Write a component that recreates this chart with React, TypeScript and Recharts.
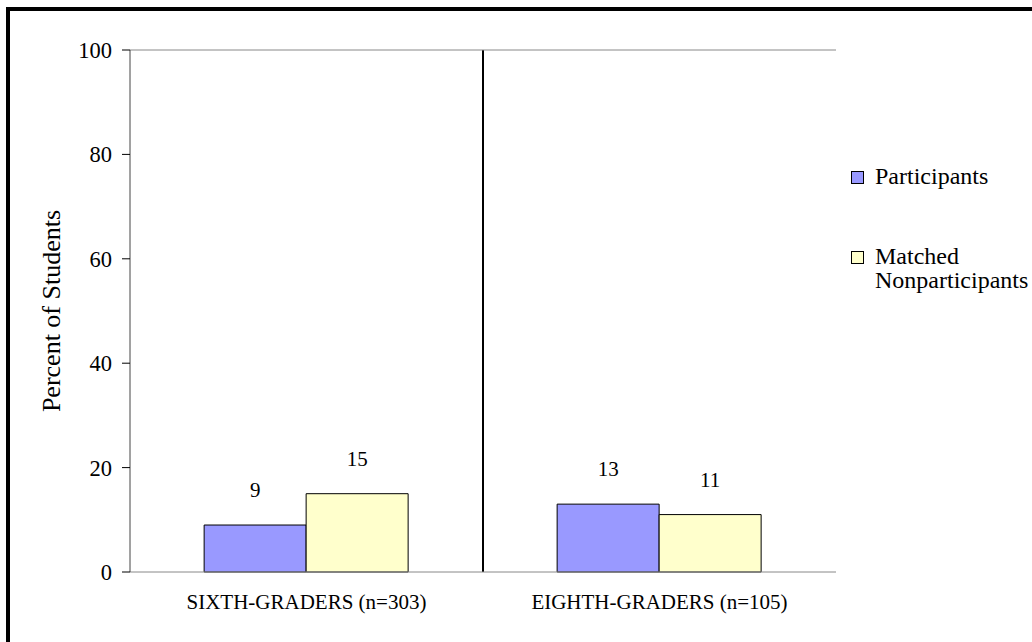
import React from 'react';
import { BarChart, Bar, XAxis, YAxis, LabelList, ReferenceLine, CartesianGrid } from 'recharts';

const categories = ['SIXTH-GRADERS (n=303)', 'EIGHTH-GRADERS (n=105)'];
const participants = [9, 13];
const nonparticipants = [15, 11];
const yTicks = [0, 20, 40, 60, 80, 100];
const seriesNames = ['Participants', 'Matched\nNonparticipants'];
const seriesColors = ['#9999FF', '#FFFFCC'];

const data = categories.map((name, i) => ({
  name,
  participants: participants[i],
  nonparticipants: nonparticipants[i],
}));

const FONT = '"Liberation Serif", "Times New Roman", serif';

const LegendBox = () => (
  <div
    style={{
      position: 'absolute',
      left: 851,
      top: 164,
      fontFamily: FONT,
      fontSize: 24,
      color: '#000',
      lineHeight: '24px',
    }}
  >
    {seriesNames.map((name, i) => (
      <div key={i} style={{ display: 'flex', alignItems: 'flex-start', marginBottom: i === 0 ? 56 : 0 }}>
        <span
          style={{
            display: 'inline-block',
            width: 11,
            height: 11,
            background: seriesColors[i],
            border: '1px solid #000',
            marginTop: 7,
            marginRight: 11,
            flex: 'none',
          }}
        />
        <span>
          {name.split('\n').map((l, j) => (
            <div key={j} style={{ whiteSpace: 'nowrap' }}>{l}</div>
          ))}
        </span>
      </div>
    ))}
  </div>
);

const YLabel = ({ viewBox }: any) => {
  const cx = 51;
  const cy = viewBox.y + viewBox.height / 2;
  return (
    <text
      x={cx}
      y={cy}
      transform={`rotate(-90 ${cx} ${cy})`}
      textAnchor="middle"
      dominantBaseline="central"
      fontFamily={FONT}
      fontSize={26}
      fill="#000"
    >
      Percent of Students
    </text>
  );
};

export default function App() {
  return (
    <div style={{ position: 'fixed', left: 0, top: 0, width: 1032, height: 642, overflow: 'hidden', background: '#fff' }}>
      <div
        style={{
          position: 'absolute',
          left: 6,
          top: 7,
          width: 1100,
          height: 700,
          border: '4px solid #000',
        }}
      />
      <div style={{ position: 'absolute', left: 0, top: 0 }}>
        <BarChart
          width={1032}
          height={642}
          data={data}
          margin={{ top: 50, right: 196, left: 30, bottom: 30 }}
          barCategoryGap="21%"
          barGap={0}
        >
          <CartesianGrid
            horizontal={false}
            stroke="#000"
            strokeWidth={2}
            verticalCoordinatesGenerator={({ offset }: any) => [offset.left + offset.width / 2]}
          />
          <XAxis
            dataKey="name"
            height={40}
            tickLine={false}
            tickSize={0}
            tickMargin={22}
            axisLine={{ stroke: '#888' }}
            tick={{ fontSize: 21, fill: '#000', fontFamily: FONT }}
            interval={0}
          />
          <YAxis
            width={100}
            domain={[0, 100]}
            ticks={yTicks}
            interval={0}
            tickSize={8}
            tickMargin={10}
            axisLine={{ stroke: '#444' }}
            tickLine={{ stroke: '#000' }}
            tick={{ fontSize: 22.5, fill: '#000', fontFamily: FONT }}
            label={<YLabel />}
          />
          <YAxis yAxisId="r" orientation="right" width={0} tick={false} tickLine={false} axisLine={{ stroke: '#888' }} />
          <ReferenceLine y={100} stroke="#888" />
          <Bar dataKey="participants" name="Participants" fill={seriesColors[0]} stroke="#000" strokeWidth={1} isAnimationActive={false}>
            <LabelList dataKey="participants" position="top" offset={28} fill="#000" fontSize={21} fontFamily={FONT} />
          </Bar>
          <Bar dataKey="nonparticipants" name="Matched Nonparticipants" fill={seriesColors[1]} stroke="#000" strokeWidth={1} isAnimationActive={false}>
            <LabelList dataKey="nonparticipants" position="top" offset={28} fill="#000" fontSize={21} fontFamily={FONT} />
          </Bar>
        </BarChart>
      </div>
      <LegendBox />
    </div>
  );
}
